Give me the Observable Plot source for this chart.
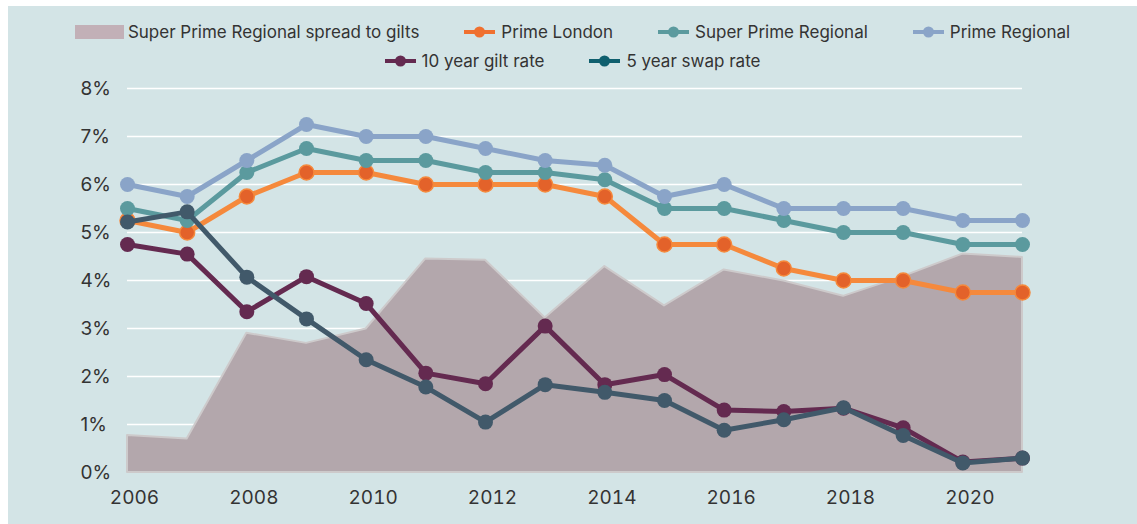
<!DOCTYPE html>
<html>
<head>
<meta charset="utf-8">
<script src="https://cdn.jsdelivr.net/npm/d3@7"></script>
<script src="https://cdn.jsdelivr.net/npm/@observablehq/plot@0.6"></script>
<style>
  html, body { margin: 0; padding: 0; background: #ffffff; }
  #chart {
    position: absolute; left: 8px; top: 6px; width: 1129px; height: 518px;
    background: #d3e4e6; font-family: Inter, "DejaVu Sans", sans-serif; color: #333;
  }
  #legend { position: absolute; left: 0; top: 0; width: 1129px; height: 64px; }
  .row { position: absolute; left: 0; width: 100%; display: flex; justify-content: center; align-items: center; font-size: 17px; }
  .item { display: flex; align-items: center; white-space: nowrap; }
  .item svg { display: block; margin-right: 6px; }
  .swatch { width: 49px; height: 14px; margin-right: 4px; }
  #plot { position: absolute; left: 0; top: 64px; }
</style>
</head>
<body>
<div id="chart">
  <div id="legend"></div>
  <div id="plot"></div>
</div>
<script>
// ---- data ----
const years = [2006, 2007, 2008, 2009, 2010, 2011, 2012, 2013, 2014, 2015, 2016, 2017, 2018, 2019, 2020, 2021];
const primeLondon        = [5.25, 5.0, 5.75, 6.25, 6.25, 6.0, 6.0, 6.0, 5.75, 4.75, 4.75, 4.25, 4.0, 4.0, 3.75, 3.75];
const superPrimeRegional = [5.5, 5.25, 6.25, 6.75, 6.5, 6.5, 6.25, 6.25, 6.1, 5.5, 5.5, 5.25, 5.0, 5.0, 4.75, 4.75];
const primeRegional      = [6.0, 5.75, 6.5, 7.25, 7.0, 7.0, 6.75, 6.5, 6.4, 5.75, 6.0, 5.5, 5.5, 5.5, 5.25, 5.25];
const gilt10y            = [4.75, 4.55, 3.35, 4.08, 3.52, 2.07, 1.85, 3.05, 1.83, 2.04, 1.3, 1.27, 1.34, 0.93, 0.22, 0.3];
const swap5y             = [5.22, 5.43, 4.07, 3.2, 2.35, 1.78, 1.05, 1.83, 1.67, 1.5, 0.88, 1.1, 1.35, 0.77, 0.2, 0.3];
const spread             = [0.77, 0.7, 2.9, 2.69, 2.99, 4.45, 4.42, 3.22, 4.29, 3.47, 4.22, 3.99, 3.67, 4.08, 4.55, 4.48];
const yTicks = [0, 1, 2, 3, 4, 5, 6, 7, 8];
const xTicks = [2006, 2008, 2010, 2012, 2014, 2016, 2018, 2020];

const seriesNames = ["Prime London", "Super Prime Regional", "Prime Regional", "10 year gilt rate", "5 year swap rate"];
const seriesValues = [primeLondon, superPrimeRegional, primeRegional, gilt10y, swap5y];
const lineColors = ["#f5893c", "#5b9a9e", "#8aa4c8", "#642a50", "#41596a"];
const dotColors  = ["#e3622a", "#5b9a9e", "#8aa4c8", "#642a50", "#41596a"];
const legendColors = ["#f0702f", "#5b9a9e", "#8aa4c8", "#642a50", "#0f5f6e"];
const areaName = "Super Prime Regional spread to gilts";

// ---- legend ----
const legend = document.getElementById("legend");
const rows = [[{area: true, name: areaName}, 0, 1, 2], [3, 4]];
const rowTops = [16, 45];
rows.forEach((row, ri) => {
  const r = document.createElement("div");
  r.className = "row";
  r.style.top = rowTops[ri] + "px";
  r.style.gap = "45px";
  row.forEach(it => {
    const item = document.createElement("div");
    item.className = "item";
    if (typeof it === "object") {
      const sw = document.createElement("div");
      sw.className = "swatch";
      sw.style.background = "#c2b0b7";
      item.appendChild(sw);
      item.appendChild(document.createTextNode(it.name));
    } else {
      const s = d3.create("svg").attr("width", 31).attr("height", 14);
      s.append("line").attr("x1", 0).attr("x2", 31).attr("y1", 7).attr("y2", 7)
        .attr("stroke", legendColors[it]).attr("stroke-width", 4);
      s.append("circle").attr("cx", 15.5).attr("cy", 7).attr("r", 5.5).attr("fill", legendColors[it]);
      item.appendChild(s.node());
      item.appendChild(document.createTextNode(seriesNames[it]));
    }
    r.appendChild(item);
  });
  legend.appendChild(r);
});

// ---- chart ----
const areaData = years.map((y, i) => ({year: y, value: spread[i]}));
const seriesMarks = [];
seriesNames.forEach((name, s) => {
  const data = years.map((y, i) => ({year: y, value: seriesValues[s][i]}));
  seriesMarks.push(Plot.line(data, {x: "year", y: "value", stroke: lineColors[s], strokeWidth: 5, strokeLinejoin: "round"}));
  seriesMarks.push(Plot.dot(data, {x: "year", y: "value", r: 7.5, fill: dotColors[s],
    stroke: s === 0 ? lineColors[0] : "none", strokeWidth: s === 0 ? 1.5 : 0}));
});

const chart = Plot.plot({
  width: 1129,
  height: 454,
  marginLeft: 119,
  marginRight: 115,
  marginTop: 18,
  marginBottom: 52,
  style: {background: "transparent", fontFamily: "Inter, sans-serif", fontSize: "19px", color: "#333", overflow: "visible"},
  x: {type: "linear", domain: [2006, 2021], axis: null},
  y: {domain: [0, 8], axis: null},
  marks: [
    Plot.ruleY(yTicks.filter(d => d > 0), {stroke: "#ffffff", strokeWidth: 1.6}),
    Plot.areaY(areaData, {x: "year", y: "value", fill: "#b3a7ac", stroke: "#cdcacb", strokeWidth: 2}),
    ...seriesMarks,
    Plot.text(yTicks, {y: d => d, text: d => d + "%", frameAnchor: "left", textAnchor: "start", dx: -47, fill: "#333", fontSize: 19}),
    Plot.axisX({ticks: xTicks, tickFormat: d => String(d), tickSize: 0, tickPadding: 18, dx: 7, fontSize: 19, label: null, fill: "#333"})
  ]
});
document.getElementById("plot").appendChild(chart);
</script>
</body>
</html>
